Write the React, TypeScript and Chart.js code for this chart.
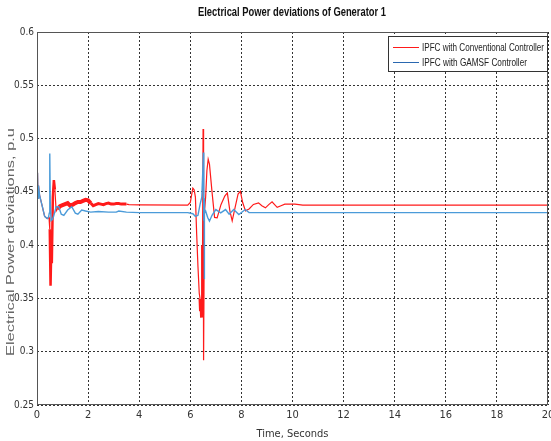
import { useEffect, useRef } from "react";
import { Chart, registerables } from "chart.js";

Chart.register(...registerables);

const titleText = "Electrical Power deviations of Generator 1";
const xTitle = "Time, Seconds";
const yTitle = "Electrical Power deviations, p.u";
const seriesLabels = ["IPFC with Conventional Controller", "IPFC with GAMSF Controller"];
const xTicks = [0, 2, 4, 6, 8, 10, 12, 14, 16, 18, 20];
const yTicks = [0.25, 0.3, 0.35, 0.4, 0.45, 0.5, 0.55, 0.6];

// IPFC with Conventional Controller
const tConv = [
  0, 0.02, 0.04, 0.06, 0.1, 0.2, 0.3, 0.4, 0.47, 0.5, 0.53, 0.56, 0.58, 0.62, 0.66, 0.7, 0.75, 0.8,
  0.9, 1.0, 1.1, 1.2, 1.3, 1.4, 1.5, 1.6, 1.7, 1.8, 1.9, 2.0, 2.1, 2.2, 2.3, 2.4, 2.5,
  2.6, 2.7, 2.8, 2.9, 3.0, 3.1, 3.2, 3.3, 3.4, 3.5, 3.6, 4.0,
  5.9, 6.0, 6.05, 6.1, 6.15, 6.2, 6.25, 6.3, 6.35, 6.38, 6.4, 6.42, 6.43, 6.45,
  6.46, 6.48, 6.5, 6.52, 6.55, 6.6, 6.65, 6.7, 6.75, 6.85, 6.95, 7.05, 7.2,
  7.35, 7.45, 7.55, 7.64, 7.75, 7.87, 7.96, 8.05, 8.16, 8.3, 8.47, 8.67, 8.8,
  8.94, 9.07, 9.2, 9.3, 9.4, 9.55, 9.7, 10.1, 10.4, 12, 14, 16, 18, 20,
];
const pConv = [
  0.452, 0.468, 0.444, 0.456, 0.447, 0.437, 0.427, 0.425, 0.426, 0.415, 0.362, 0.4, 0.383, 0.445, 0.461, 0.452, 0.432, 0.434,
  0.4365, 0.4375, 0.4385, 0.4395, 0.437, 0.438, 0.4395, 0.4405, 0.4405, 0.4415, 0.4425, 0.442, 0.4395, 0.437, 0.438, 0.439, 0.4385,
  0.438, 0.439, 0.4395, 0.4385, 0.4385, 0.439, 0.439, 0.4385, 0.4385, 0.4385, 0.438, 0.4378,
  0.4375, 0.44, 0.447, 0.4535, 0.452, 0.445, 0.41, 0.38, 0.355, 0.35, 0.338, 0.348, 0.332, 0.345,
  0.336, 0.4, 0.509, 0.292, 0.43, 0.445, 0.47, 0.4806, 0.476, 0.45, 0.426, 0.4256, 0.438,
  0.446, 0.449, 0.432, 0.4228, 0.435, 0.448, 0.4505, 0.44, 0.4322, 0.434, 0.4382, 0.4397, 0.437,
  0.435, 0.438, 0.4406, 0.438, 0.4355, 0.437, 0.4385, 0.4385, 0.4375, 0.4375, 0.4375, 0.4375, 0.4375, 0.4375,
];

// IPFC with GAMSF Controller
const tGamsf = [
  0, 0.02, 0.04, 0.06, 0.1, 0.2, 0.3, 0.4, 0.45, 0.48, 0.5, 0.52, 0.55, 0.6, 0.65,
  0.75, 0.85, 0.95, 1.05, 1.2, 1.36, 1.5, 1.6, 1.75, 1.9, 2.1, 2.4, 2.8, 3.1, 3.2,
  3.5, 4.0, 5.9, 6.1, 6.2, 6.3, 6.38, 6.45, 6.49, 6.51, 6.52, 6.53, 6.535, 6.54,
  6.545, 6.56, 6.6, 6.68, 6.75, 6.85, 7.0, 7.19, 7.38, 7.52, 7.7, 7.9, 8.15, 8.3,
  10, 12, 14, 16, 18, 20,
];
const pGamsf = [
  0.452, 0.468, 0.444, 0.456, 0.447, 0.437, 0.427, 0.425, 0.426, 0.43, 0.486, 0.44, 0.423, 0.424, 0.427,
  0.436, 0.436, 0.429, 0.428, 0.433, 0.436, 0.43, 0.429, 0.433, 0.432, 0.431, 0.4315, 0.431, 0.431, 0.432,
  0.431, 0.4305, 0.4305, 0.4295, 0.427, 0.428, 0.438, 0.445, 0.47, 0.487, 0.44, 0.445, 0.423, 0.444,
  0.368, 0.43, 0.432, 0.426, 0.4225, 0.428, 0.4334, 0.4303, 0.4334, 0.429, 0.4334, 0.4287, 0.4334, 0.4305,
  0.4305, 0.4305, 0.4305, 0.4305, 0.4305, 0.4305,
];

// heavy-oscillation time windows of the conventional response (drawn thicker)
const thickWindows = [
  { from: 0.5, to: 0.7, width: 2.5 },
  { from: 0.8, to: 2.1, width: 4 },
  { from: 2.1, to: 3.5, width: 3 },
  { from: 6.36, to: 6.47, width: 3 },
];

const convColor = "#ff1a1a";
const gamsfColor = "#4b9bd9";
const gamsfLegendColor = "#2a68b0";
const sans = "'Liberation Sans', Arial, sans-serif";
const cond = "'DejaVu Sans Condensed', 'Liberation Sans', sans-serif";

function fitText(ctx: any, text: string, x: number, y: number, width: number) {
  const w = ctx.measureText(text).width;
  ctx.save();
  ctx.translate(x, y);
  ctx.scale(width / w, 1);
  ctx.fillText(text, 0, 0);
  ctx.restore();
}

const deco = {
  id: "deco",
  afterDraw(chart: any) {
    const { ctx, chartArea: a } = chart;
    ctx.save();
    ctx.strokeStyle = "#555";
    ctx.lineWidth = 1;
    ctx.setLineDash([]);
    ctx.strokeRect(a.left + 0.5, a.top + 0.5, a.right - a.left - 1, a.bottom - a.top - 1);
    ctx.fillStyle = "#111";
    ctx.font = `bold 12px ${sans}`;
    ctx.textAlign = "center";
    ctx.textBaseline = "middle";
    fitText(ctx, titleText, 292, 13, 188);
    ctx.save();
    ctx.translate(11, 242);
    ctx.rotate(-Math.PI / 2);
    ctx.fillStyle = "#666";
    ctx.font = `11px ${sans}`;
    fitText(ctx, yTitle, 0, 0, 228);
    ctx.restore();
    const bx = 388, by = 36, bw = a.right - 1 - 388, bh = 35;
    ctx.fillStyle = "#fff";
    ctx.fillRect(bx, by, bw, bh);
    ctx.strokeStyle = "#333";
    ctx.strokeRect(bx + 0.5, by + 0.5, bw, bh);
    const rows = [
      { label: seriesLabels[0], color: convColor, y: 47, w: 122 },
      { label: seriesLabels[1], color: gamsfLegendColor, y: 62, w: 105 },
    ];
    ctx.font = `11px ${sans}`;
    ctx.textAlign = "left";
    for (const r of rows) {
      ctx.strokeStyle = r.color;
      ctx.lineWidth = 1;
      ctx.beginPath();
      ctx.moveTo(393, r.y + 0.5);
      ctx.lineTo(419, r.y + 0.5);
      ctx.stroke();
      ctx.fillStyle = "#222";
      fitText(ctx, r.label, 422, r.y + 1, r.w);
    }
    ctx.restore();
  },
};

export default function App() {
  const ref = useRef<HTMLCanvasElement>(null);
  useEffect(() => {
    if (!ref.current) return;
    const chart = new Chart(ref.current, {
      type: "line",
      data: {
        datasets: [
          {
            label: seriesLabels[0],
            data: tConv.map((t, i) => ({ x: t, y: pConv[i] })),
            borderColor: convColor,
            borderWidth: 1.2,
            pointRadius: 0,
            tension: 0,
            fill: false,
            order: 1,
            segment: {
              borderWidth: (c: any) => {
                const x = c.p0.parsed.x;
                const w = thickWindows.find((r) => x >= r.from && x < r.to);
                return w ? w.width : 1.2;
              },
            },
          },
          {
            label: seriesLabels[1],
            data: tGamsf.map((t, i) => ({ x: t, y: pGamsf[i] })),
            borderColor: gamsfColor,
            borderWidth: 1.4,
            pointRadius: 0,
            tension: 0,
            fill: false,
            order: 0,
          },
        ],
      },
      options: {
        responsive: false,
        animation: false,
        layout: { padding: { top: 32, right: 3, left: 0, bottom: 0 } },
        plugins: { legend: { display: false }, title: { display: false }, tooltip: { enabled: false } },
        scales: {
          x: {
            type: "linear",
            min: 0,
            max: 20,
            afterFit: (s: any) => { s.height = 36; s.paddingRight = 0; s.paddingLeft = 0; },
            afterBuildTicks: (s: any) => { s.ticks = xTicks.map((v) => ({ value: v })); },
            ticks: { color: "#333", font: { family: cond, size: 11 }, padding: 4, maxRotation: 0, autoSkip: false },
            grid: { color: "#333", drawTicks: false },
            border: { display: false, dash: [2, 2] },
            title: { display: true, text: xTitle, color: "#333", font: { family: cond, size: 11 }, padding: { top: 0, bottom: 0 } },
          },
          y: {
            type: "linear",
            min: 0.25,
            max: 0.6,
            afterFit: (s: any) => { s.width = 37; },
            afterBuildTicks: (s: any) => { s.ticks = yTicks.map((v) => ({ value: v })); },
            ticks: {
              color: "#333",
              font: { family: cond, size: 10 },
              padding: 3,
              autoSkip: false,
              callback: (v: any) => String(Number(Number(v).toFixed(2))),
            },
            grid: { color: "#333", drawTicks: false },
            border: { display: false, dash: [2, 2] },
          },
        },
      },
      plugins: [deco],
    } as any);
    return () => chart.destroy();
  }, []);
  return (
    <div style={{ position: "fixed", left: 0, top: 0, width: 551, height: 441, background: "#fff" }}>
      <canvas ref={ref} width={551} height={441} />
    </div>
  );
}
